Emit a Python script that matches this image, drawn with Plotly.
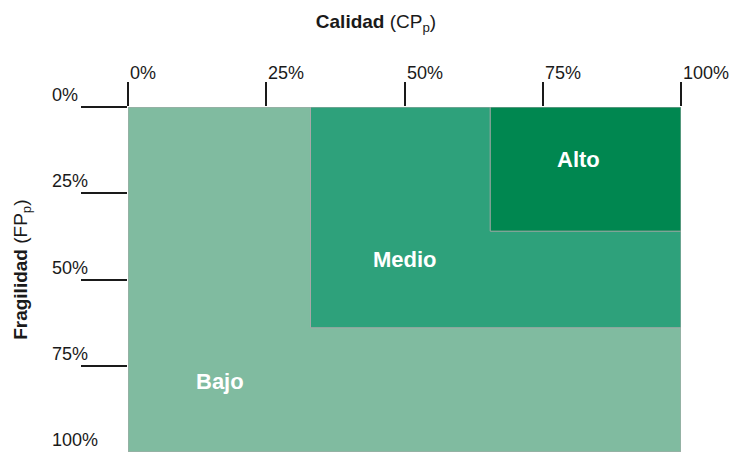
import plotly.graph_objects as go

# ---- data ----
levels = ["Bajo", "Medio", "Alto"]
cp_start = [0, 33, 65.5]      # Calidad (CPp) lower bound, %
cp_end = [100, 100, 100]
fp_start = [0, 0, 0]          # Fragilidad (FPp), %
fp_end = [100, 64, 36]
x_ticks = [0, 25, 50, 75, 100]
x_tick_labels = ["0%", "25%", "50%", "75%", "100%"]
y_ticks = [0, 25, 50, 75, 100]
y_tick_labels = ["0%", "25%", "50%", "75%", "100%"]

# ---- style ----
fill_colors = ["#80BBA0", "#2EA17B", "#008750"]
label_pos = [(16.6, 79.7), (50.0, 44.3), (81.4, 15.2)]
FONT = "Liberation Sans, Arial, Helvetica, sans-serif"
INK = "#1a1a1a"

fig = go.Figure()
fig.add_trace(go.Scatter(x=[0, 100], y=[0, 100], mode="markers",
                         marker=dict(opacity=0), hoverinfo="skip", showlegend=False))

for i, name in enumerate(levels):
    fig.add_shape(type="rect", xref="x", yref="y",
                  x0=cp_start[i], x1=cp_end[i], y0=fp_start[i], y1=fp_end[i],
                  fillcolor=fill_colors[i], line=dict(color="#A8A8A8", width=1),
                  layer="below")
    fig.add_annotation(x=label_pos[i][0], y=label_pos[i][1], xref="x", yref="y",
                       text=f"<b>{name}</b>", showarrow=False,
                       font=dict(family=FONT, size=22, color="white"))

# x tick labels (top, right of tick)
for v, t in zip(x_ticks, x_tick_labels):
    fig.add_annotation(x=v, y=1, xref="x", yref="paper", text=t, showarrow=False,
                       xanchor="left", yanchor="bottom", xshift=0, yshift=22,
                       font=dict(family=FONT, size=18, color=INK))
# y tick labels (left, above tick)
for v, t in zip(y_ticks, y_tick_labels):
    fig.add_annotation(x=0, y=v, xref="paper", yref="y", text=t, showarrow=False,
                       xanchor="left", yanchor="bottom", xshift=-78, yshift=0,
                       font=dict(family=FONT, size=18, color=INK))

# y-axis title
fig.add_annotation(x=0, y=0.528, xref="paper", yref="paper",
                   text="<b>Fragilidad</b> (FP<sub>p</sub>)", showarrow=False,
                   textangle=-90, xanchor="center", yanchor="middle", xshift=-106,
                   font=dict(family=FONT, size=19, color=INK))

fig.update_layout(
    width=734, height=453,
    margin=dict(l=128, r=53, t=107, b=1),
    paper_bgcolor="white", plot_bgcolor="white",
    showlegend=False,
    title=dict(text="<b>Calidad</b> (CP<sub>p</sub>)", xref="container", x=376/734,
               xanchor="center", yref="container", y=1 - 21/453, yanchor="middle",
               font=dict(family=FONT, size=19, color=INK)),
    xaxis=dict(range=[0, 100], side="top", showgrid=False, zeroline=False,
               showline=False, tickvals=x_ticks, showticklabels=False,
               ticks="outside", ticklen=24, tickwidth=1.6, tickcolor=INK,
               fixedrange=True),
    yaxis=dict(range=[100, 0], showgrid=False, zeroline=False, showline=False,
               tickvals=y_ticks[:-1], showticklabels=False,
               ticks="outside", ticklen=46, tickwidth=1.6, tickcolor=INK,
               fixedrange=True),
)

fig.write_html("out.html", config={"displayModeBar": False},
               post_script="document.body.style.margin='0';document.body.style.padding='0';document.body.style.overflow='hidden';")
